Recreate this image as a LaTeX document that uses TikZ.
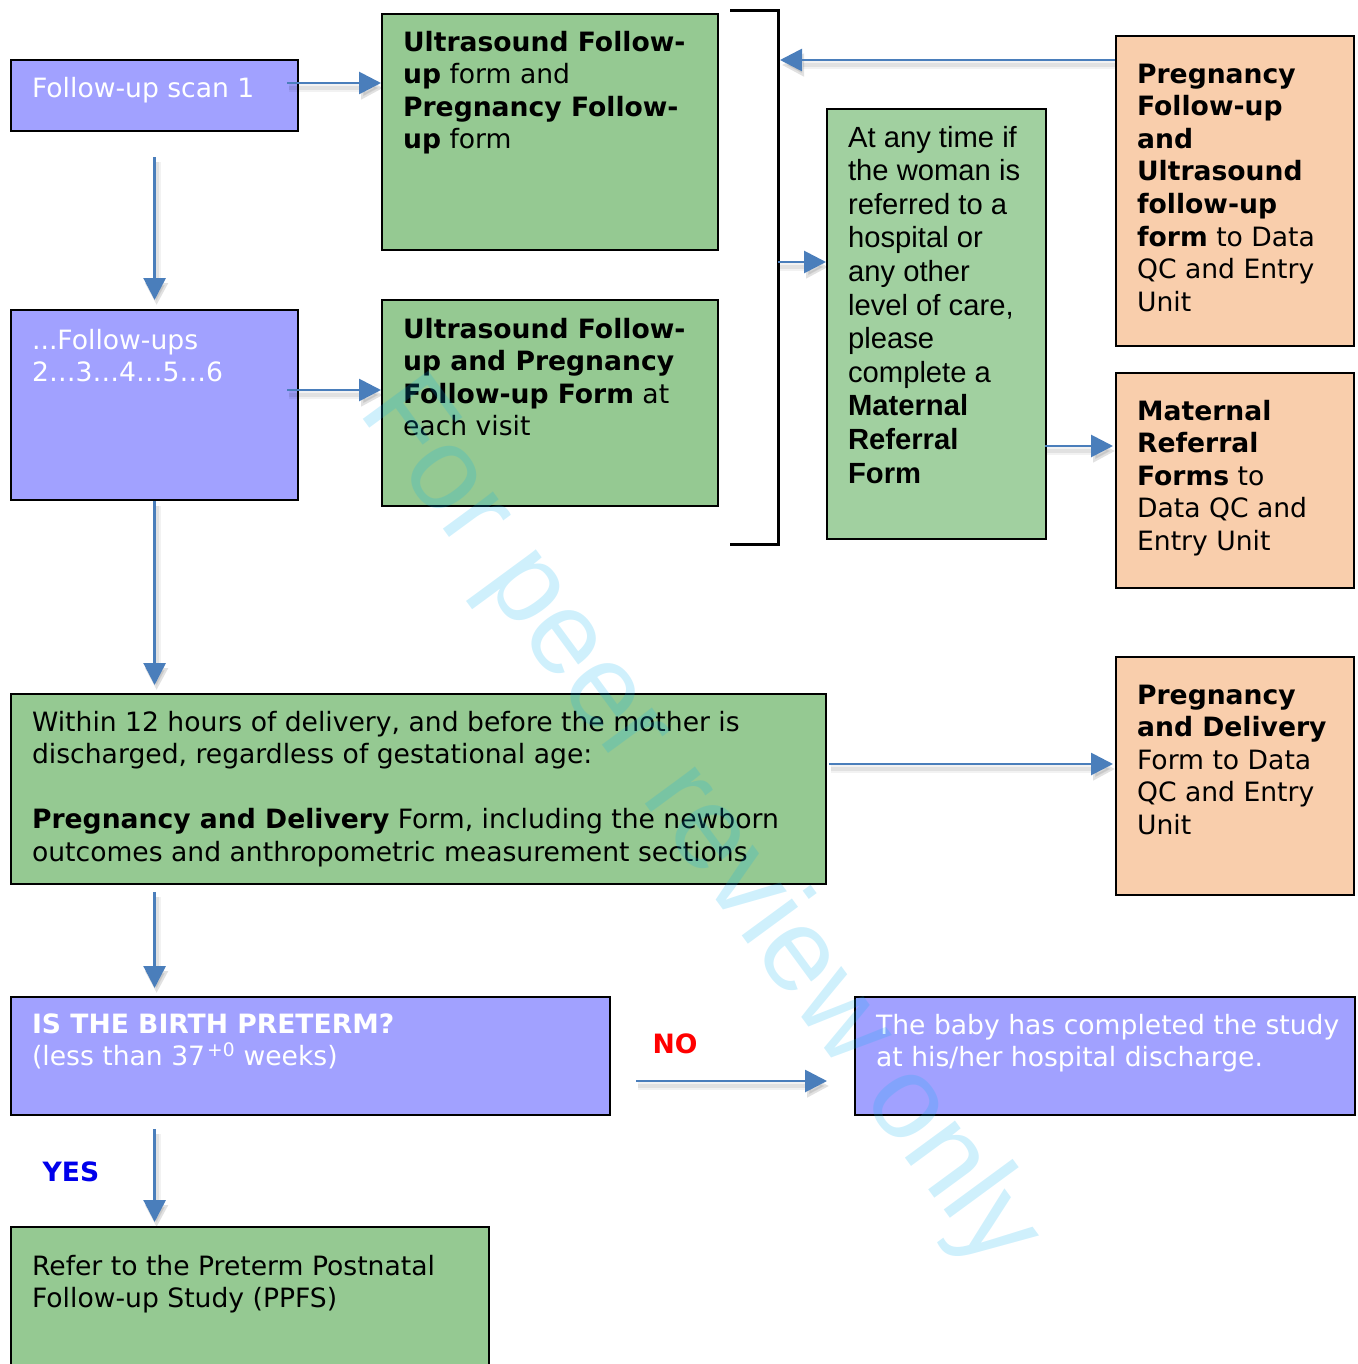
\documentclass[tikz,border=0pt]{standalone}
\usepackage{fontspec}
\setmainfont{DejaVu Sans}
\newfontfamily\arialfont{Liberation Sans}
\usetikzlibrary{arrows.meta,calc}

\definecolor{boxblue}{RGB}{161,161,255}
\definecolor{boxgreen}{RGB}{149,201,146}
\definecolor{lightgreen}{RGB}{161,208,160}
\definecolor{boxorange}{RGB}{249,206,172}
\definecolor{arrowblue}{RGB}{74,126,187}
\definecolor{wmcyan}{RGB}{0,176,240}

% A box with its top-left corner at (x,y), given width/height,
% and its first baseline a fixed distance below the top edge.
% Lines are set one per row so that none of them wraps.
% #1 name, #2 style, #3 x, #4 y, #5 width, #6 height, #7 first baseline, #8 text
\newcommand\flowbox[8]{%
  \node[#2, anchor=north west, minimum width=#5pt, minimum height=#6pt] (#1) at (#3,#4)
    {\begin{minipage}[c][#6pt][t]{\dimexpr #5pt-42pt\relax}%
      \begin{tabular}{@{}l@{}}\rule{0pt}{#7pt}#8\end{tabular}\end{minipage}};}

\tikzset{
  boxbase/.style={draw=black, line width=2.2pt, inner xsep=21pt, inner ysep=0pt,
    font=\fontsize{26.6}{32.6}\selectfont},
  bluebox/.style={boxbase, fill=boxblue, text=white},
  greenbox/.style={boxbase, fill=boxgreen, text=black},
  lgreenbox/.style={boxbase, fill=lightgreen, text=black,
    font=\arialfont\fontsize{29.2}{33.6}\selectfont},
  orangebox/.style={boxbase, fill=boxorange, text=black},
  arr/.style={draw=arrowblue, line width=2.8pt, -{Triangle[length=22pt,width=22pt]},
    preaction={draw=black, draw opacity=0.05, fill opacity=0.05, line width=8pt,
      transform canvas={shift={(2pt,-5pt)}}},
    preaction={draw=black, draw opacity=0.07, fill opacity=0.07, line width=4pt,
      transform canvas={shift={(2pt,-5pt)}}}},
  bracketline/.style={draw=black, line width=3pt},
  answer/.style={font=\bfseries\fontsize{26.6}{30}\selectfont, inner sep=0pt},
  watermark/.style={font=\arialfont\fontsize{118}{118}\selectfont, text=wmcyan,
    text opacity=0.19, inner sep=0pt}
}

\begin{document}
\begin{tikzpicture}[x=1pt,y=-1pt]
\useasboundingbox (0,0) rectangle (1357,1364);
\clip (0,0) rectangle (1357,1364);

% left column and middle column
\flowbox{scan1}{bluebox}{10}{59}{287}{71}{37}{Follow-up scan 1}
\flowbox{usA}{greenbox}{381}{13}{336}{236}{37}{%
  \textbf{Ultrasound Follow-}\\\textbf{up} form and\\\textbf{Pregnancy Follow-}\\\textbf{up} form}
\flowbox{fu2}{bluebox}{10}{309}{287}{190}{39}{...Follow-ups\\2\ldots3\ldots4\ldots5\ldots6}
\flowbox{usB}{greenbox}{381}{299}{336}{206}{38}{%
  \textbf{Ultrasound Follow-}\\\textbf{up and Pregnancy}\\\textbf{Follow-up Form} at\\each visit}

% referral note
\flowbox{atany}{lgreenbox}{826}{108}{219}{430}{38}{%
  At any time if\\the woman is\\referred to a\\hospital or\\any other\\level of care,\\please\\complete a\\%
  \textbf{Maternal}\\\textbf{Referral}\\\textbf{Form}}

% forms sent to the unit
\flowbox{or1}{orangebox}{1115}{35}{238}{310}{47}{%
  \textbf{Pregnancy}\\\textbf{Follow-up}\\\textbf{and}\\\textbf{Ultrasound}\\\textbf{follow-up}\\%
  \textbf{form} to Data\\QC and Entry\\Unit}
\flowbox{or2}{orangebox}{1115}{372}{238}{215}{47}{%
  \textbf{Maternal}\\\textbf{Referral}\\\textbf{Forms} to\\Data QC and\\Entry Unit}
\flowbox{or3}{orangebox}{1115}{656}{238}{238}{47}{%
  \textbf{Pregnancy}\\\textbf{and Delivery}\\Form to Data\\QC and Entry\\Unit}

% delivery and outcome
\flowbox{deliv}{greenbox}{10}{693}{815}{190}{37}{%
  Within 12 hours of delivery, and before the mother is\\discharged, regardless of gestational age:\\[32.6pt]%
  \textbf{Pregnancy and Delivery} Form, including the newborn\\outcomes and anthropometric measurement sections}
\flowbox{pre}{bluebox}{10}{996}{599}{118}{36}{%
  \textbf{IS THE BIRTH PRETERM?}\\(less than 37\kern2pt\textsuperscript{+0} weeks)}
\flowbox{done}{bluebox}{854}{996}{500}{118}{37}{%
  The baby has completed the study\\at his/her hospital discharge.}
\flowbox{ppfs}{greenbox}{10}{1226}{478}{170}{48}{%
  Refer to the Preterm Postnatal\\Follow-up Study (PPFS)}

% bracket grouping the follow-up forms
\coordinate (brTL) at (730,11);
\coordinate (brTR) at (778,11);
\coordinate (brBR) at (778,544);
\coordinate (brBL) at (730,544);
\draw[bracketline] (brTL) -- (brTR) -- (brBR) -- (brBL);

% answers
\node[answer, text=red] (no) at (675,1044) {NO};
\node[answer, text={rgb,255:red,0;green,0;blue,235}] (yes) at (71,1172) {YES};

% connectors
\draw[arr] ($(scan1.north east)+(-12,24)$) coordinate (a1) -- (usA.west |- a1);
\draw[arr] ($(scan1.south)+(0,25)$) -- ($(fu2.north)+(0,-9)$);
\draw[arr] ($(fu2.north east)+(-12,81)$) coordinate (a3) -- (usB.west |- a3);
\draw[arr] (fu2.south) -- ($(deliv.north -| fu2.south)+(0,-8)$);
\draw[arr] ($(deliv.south -| fu2.south)+(0,7)$) -- ($(pre.north -| fu2.south)+(0,-8)$);
\draw[arr] ($(pre.south -| fu2.south)+(0,13)$) -- ($(ppfs.north -| fu2.south)+(0,-4)$);
\draw[arr] ($(pre.north east)+(25,85)$) coordinate (a7) -- ($(done.west |- a7)+(-27,0)$);
\draw[arr] ($(or1.north west)+(0,25)$) coordinate (a8) -- ($(brTR |- a8)+(2,0)$);
\draw[arr] ($(brTR)+(0,251)$) coordinate (a9) -- (atany.west |- a9);
\draw[arr] ($(atany.north east)+(-2,338)$) coordinate (a10) -- ($(or2.west |- a10)+(-2,0)$);
\draw[arr] ($(deliv.north east)+(2,71)$) coordinate (a11) -- ($(or3.west |- a11)+(-2,0)$);

% watermark
\node[watermark, rotate=-53.7] (wm) at (698,824) {For peer review only};
\end{tikzpicture}
\end{document}
